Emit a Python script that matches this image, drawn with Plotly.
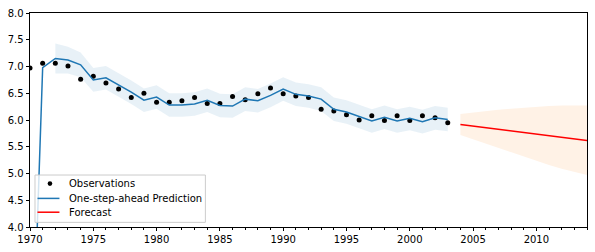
import plotly.graph_objects as go

# ---- data ----
obs_years = list(range(1970, 2004))
obs_values = [6.97, 7.06, 7.06, 7.01, 6.76, 6.82, 6.69, 6.58, 6.42, 6.50,
              6.33, 6.33, 6.36, 6.42, 6.31, 6.31, 6.44, 6.38, 6.49, 6.60,
              6.49, 6.45, 6.42, 6.20, 6.17, 6.10, 6.00, 6.08, 5.99, 6.08,
              5.99, 6.08, 6.04, 5.95]

pred_years = list(range(1970, 2004))
pred_values = [0.0, 6.98, 7.15, 7.12, 7.03, 6.75, 6.79, 6.66, 6.52, 6.37,
               6.43, 6.28, 6.28, 6.30, 6.37, 6.27, 6.26, 6.39, 6.36, 6.46,
               6.58, 6.48, 6.45, 6.39, 6.20, 6.15, 6.07, 5.98, 6.05, 5.98,
               6.03, 5.97, 6.04, 6.01]

ci_years = list(range(1972, 2004))
ci_upper = [7.43, 7.37, 7.26, 6.97, 7.01, 6.88, 6.74, 6.59, 6.65, 6.50,
            6.50, 6.52, 6.59, 6.49, 6.48, 6.61, 6.58, 6.68, 6.80, 6.70,
            6.67, 6.61, 6.42, 6.37, 6.29, 6.20, 6.27, 6.20, 6.25, 6.19,
            6.26, 6.23]
ci_lower = [6.87, 6.87, 6.80, 6.53, 6.57, 6.44, 6.30, 6.15, 6.21, 6.06,
            6.06, 6.08, 6.15, 6.05, 6.04, 6.17, 6.14, 6.24, 6.36, 6.26,
            6.23, 6.17, 5.98, 5.93, 5.85, 5.76, 5.83, 5.76, 5.81, 5.75,
            5.82, 5.79]

fc_years = list(range(2004, 2015))
fc_values = [5.917, 5.887, 5.857, 5.827, 5.797, 5.767, 5.737, 5.707, 5.677, 5.647, 5.617]
fc_upper = [6.11, 6.14, 6.16, 6.19, 6.21, 6.23, 6.24, 6.26, 6.27, 6.27, 6.27]
fc_lower = [5.72, 5.64, 5.56, 5.47, 5.39, 5.31, 5.24, 5.16, 5.09, 5.03, 4.97]

x_ticks = [1970, 1975, 1980, 1985, 1990, 1995, 2000, 2005, 2010]
y_ticks = [4.0, 4.5, 5.0, 5.5, 6.0, 6.5, 7.0, 7.5, 8.0]

legend_labels = ["Observations", "One-step-ahead Prediction", "Forecast"]

BLUE = "#1f77b4"
RED = "#ff0000"
FONT = "DejaVu Sans"

fig = go.Figure()

# in-sample confidence band
fig.add_trace(go.Scatter(x=ci_years, y=ci_lower, mode="lines", line=dict(width=0),
                         showlegend=False, hoverinfo="skip"))
fig.add_trace(go.Scatter(x=ci_years, y=ci_upper, mode="lines", line=dict(width=0),
                         fill="tonexty", fillcolor="rgba(31,119,180,0.1)",
                         showlegend=False, hoverinfo="skip"))
# forecast band
fig.add_trace(go.Scatter(x=fc_years, y=fc_lower, mode="lines", line=dict(width=0),
                         showlegend=False, hoverinfo="skip"))
fig.add_trace(go.Scatter(x=fc_years, y=fc_upper, mode="lines", line=dict(width=0),
                         fill="tonexty", fillcolor="rgba(255,127,14,0.1)",
                         showlegend=False, hoverinfo="skip"))

fig.add_trace(go.Scatter(x=obs_years, y=obs_values, mode="markers",
                         marker=dict(color="black", size=5),
                         name=legend_labels[0], showlegend=False))
fig.add_trace(go.Scatter(x=pred_years, y=pred_values, mode="lines",
                         line=dict(color=BLUE, width=1.5),
                         name=legend_labels[1], showlegend=False))
fig.add_trace(go.Scatter(x=fc_years, y=fc_values, mode="lines",
                         line=dict(color=RED, width=1.5),
                         name=legend_labels[2], showlegend=False))

# ---- matplotlib-style legend (compact) ----
L, B, W, H = 30, 24, 558, 217  # plot area in px (left, bottom margin, width, height)
def px(xp):
    return (xp - L) / W
def py(yp):
    return (252 - B - yp) / H

shapes = [
    dict(type="rect", xref="paper", yref="paper", x0=px(35), x1=px(205.7),
         y0=py(223.3), y1=py(175.3), fillcolor="rgba(255,255,255,0.8)",
         line=dict(color="#cccccc", width=1), layer="above"),
    dict(type="circle", xref="paper", yref="paper", xsizemode="pixel", ysizemode="pixel",
         xanchor=px(50), yanchor=py(184), x0=-2.3, x1=2.3, y0=-2.3, y1=2.3,
         fillcolor="black", line=dict(width=0), layer="above"),
    dict(type="line", xref="paper", yref="paper", x0=px(37.5), x1=px(59.5),
         y0=py(199), y1=py(199), line=dict(color=BLUE, width=1.5), layer="above"),
    dict(type="line", xref="paper", yref="paper", x0=px(37.5), x1=px(59.5),
         y0=py(213), y1=py(213), line=dict(color=RED, width=1.5), layer="above"),
]
annotations = []
for label, ypix in zip(legend_labels, [184, 199, 213]):
    annotations.append(dict(text=label, xref="paper", yref="paper", x=px(67.5), y=py(ypix),
                            xanchor="left", yanchor="middle", showarrow=False,
                            font=dict(family=FONT, size=10, color="black")))

fig.update_layout(
    width=595, height=252,
    margin=dict(l=30, r=7, t=11, b=24),
    paper_bgcolor="white", plot_bgcolor="white",
    font=dict(family=FONT, size=10, color="black"),
    showlegend=False,
    shapes=shapes, annotations=annotations,
)
fig.update_xaxes(range=[1970, 2014], tickvals=x_ticks, ticks="outside", ticklen=3.5,
                 tickwidth=0.8, tickcolor="black",
                 showline=True, linecolor="black", linewidth=0.8, mirror=True,
                 showgrid=False, zeroline=False,
                 minor=dict(dtick=1, tick0=1970, ticks="outside", ticklen=2,
                            tickcolor="black", tickwidth=0.6, showgrid=False))
fig.update_yaxes(range=[4.0, 8.0], tickvals=y_ticks, tickformat=".1f", ticks="outside",
                 ticklen=3.5, tickwidth=0.8, tickcolor="black",
                 showline=True, linecolor="black", linewidth=0.8, mirror=True,
                 showgrid=False, zeroline=False)

fig.write_html("out.html")
